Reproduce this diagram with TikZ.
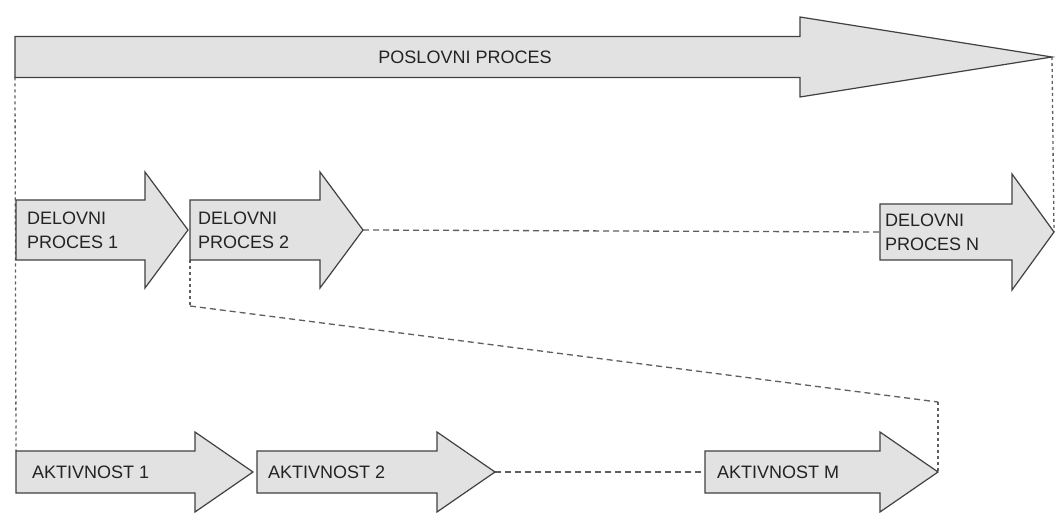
\documentclass[tikz,border=0pt]{standalone}
\usepackage{fontspec}
\setmainfont{Liberation Sans}
\usetikzlibrary{backgrounds}

\definecolor{arrowfill}{RGB}{226,226,226}
\definecolor{arrowline}{RGB}{65,65,65}
\definecolor{labeltext}{RGB}{35,35,35}
\definecolor{guideline}{RGB}{95,95,95}

\tikzset{
  arrowbody/.style={draw=arrowline, fill=arrowfill, line width=1.2pt, line join=miter},
  lbl/.style={text=labeltext, font=\fontsize{18}{24}\selectfont, inner sep=0pt, align=left},
  guide/.style={draw=guideline, line width=1.3pt, dash pattern=on 6pt off 4pt},
  guidev/.style={draw=guideline, line width=1.3pt, dash pattern=on 3pt off 3pt},
}

% block arrow: name, shaft left x, head start x, tip x, centre y, half shaft, half head
\newcommand\flowarrow[7]{%
  \draw[arrowbody] (#2,#5-#6) -- (#3,#5-#6) -- (#3,#5-#7) -- (#4,#5)
    -- (#3,#5+#7) -- (#3,#5+#6) -- (#2,#5+#6) -- cycle;
  \coordinate (#1-nw) at (#2,#5-#6);
  \coordinate (#1-w) at (#2,#5);
  \coordinate (#1-sw) at (#2,#5+#6);
  \coordinate (#1-tip) at (#4,#5);
}

\begin{document}
\begin{tikzpicture}[x=1pt, y=-1pt]
  \useasboundingbox (0,0) rectangle (1055,513);

  % business process
  \flowarrow{pp}{15}{800}{1052}{57}{20.5}{40}
  \node[lbl] (poslovni) at (465,57) {POSLOVNI PROCES};

  % work processes
  \flowarrow{dp1}{16}{145}{188}{230}{30}{58}
  \flowarrow{dp2}{190}{320}{363}{230}{30}{58}
  \flowarrow{dpn}{880}{1012}{1054}{232}{28}{58}
  \node[lbl, anchor=west] (delovni1) at ([xshift=11pt]dp1-w) {DELOVNI\\PROCES 1};
  \node[lbl, anchor=west] (delovni2) at ([xshift=8pt]dp2-w) {DELOVNI\\PROCES 2};
  \node[lbl, anchor=west] (delovnin) at ([xshift=5pt]dpn-w) {DELOVNI\\PROCES N};

  % activities
  \flowarrow{ak1}{16}{195}{253}{472}{21}{40}
  \flowarrow{ak2}{257}{437}{495}{472}{21}{40}
  \flowarrow{akm}{705}{880}{938}{472}{21}{40}
  \node[lbl, anchor=west] (aktiv1) at ([xshift=16pt]ak1-w) {AKTIVNOST 1};
  \node[lbl, anchor=west] (aktiv2) at ([xshift=11pt]ak2-w) {AKTIVNOST 2};
  \node[lbl, anchor=west] (aktivm) at ([xshift=12pt]akm-w) {AKTIVNOST M};

  \coordinate (bendA) at (190,306);
  \coordinate (bendB) at (938,402);

  % white page and guide lines behind the arrows
  \begin{scope}[on background layer]
    \fill[white] (0,0) rectangle (1055,513);
    \draw[guidev] (pp-sw) -- (ak1-nw);
    \draw[guidev] (pp-tip) -- (dpn-tip);
    \draw[guide] (dp2-tip) -- (dpn-w);
    \draw[guidev] (dp2-sw) -- (bendA);
    \draw[guide] (bendA) -- (bendB);
    \draw[guidev] (bendB) -- (akm-tip);
    \draw[guide] (ak2-tip) -- (akm-w);
  \end{scope}
\end{tikzpicture}
\end{document}
